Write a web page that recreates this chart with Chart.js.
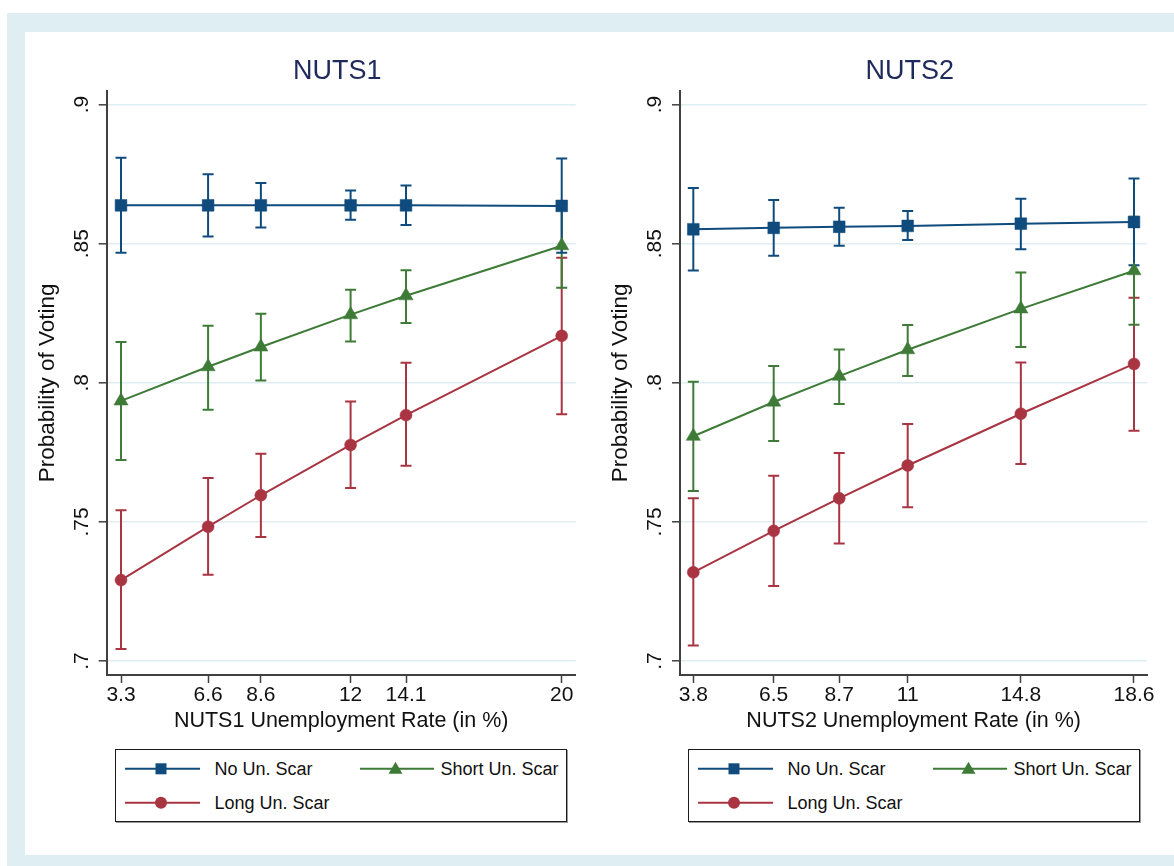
<!DOCTYPE html>
<html>
<head>
<meta charset="utf-8">
<script src="https://cdn.jsdelivr.net/npm/chart.js@4.4.1/dist/chart.umd.min.js"></script>
<style>
html,body{margin:0;padding:0;background:#fff;}
body{width:1174px;height:866px;position:relative;overflow:hidden;font-family:"Liberation Sans",Arial,Helvetica,sans-serif;}
#outer{position:absolute;left:7px;top:13px;width:1167px;height:853px;background:#deeef2;}
#inner{position:absolute;left:25px;top:32px;width:1149px;height:823px;background:#fff;}
canvas{position:absolute;}
.legend{position:absolute;top:749px;width:452px;height:73px;box-sizing:border-box;border:1.5px solid #1c1c1c;background:#fff;box-shadow:1px 1px 0 #9a9a9a;}
.legend svg{position:absolute;left:0;top:0;}
.ltext{position:absolute;font-size:18px;line-height:20px;height:20px;color:#111;white-space:nowrap;}
</style>
</head>
<body>
<div id="outer"></div>
<div id="inner"></div>
<canvas id="c1" width="575" height="710" style="left:25px;top:32px;width:575px;height:710px;"></canvas>
<canvas id="c2" width="574" height="710" style="left:600px;top:32px;width:574px;height:710px;"></canvas>
<div class="legend" id="leg1" style="left:115px;"></div>
<div class="legend" id="leg2" style="left:688px;"></div>
<script>
// ---------- DATA ----------
const SERIES_NAMES = ['No Un. Scar', 'Short Un. Scar', 'Long Un. Scar'];
const Y_TICKS = [0.7, 0.75, 0.8, 0.85, 0.9];
const Y_TICK_LABELS = ['.7', '.75', '.8', '.85', '.9'];

const NUTS1_X = [3.3, 6.6, 8.6, 12, 14.1, 20];
const NUTS1_X_LABELS = ['3.3', '6.6', '8.6', '12', '14.1', '20'];
const NUTS1_NO = [0.8638, 0.8638, 0.8638, 0.8638, 0.8638, 0.8636];
const NUTS1_NO_LO = [0.8468, 0.8526, 0.8558, 0.8586, 0.8567, 0.8468];
const NUTS1_NO_HI = [0.8809, 0.8750, 0.8718, 0.8691, 0.8709, 0.8806];
const NUTS1_SHORT = [0.7935, 0.8058, 0.8129, 0.8245, 0.8313, 0.8493];
const NUTS1_SHORT_LO = [0.7723, 0.7903, 0.8008, 0.8149, 0.8215, 0.8342];
const NUTS1_SHORT_HI = [0.8147, 0.8205, 0.8248, 0.8335, 0.8405, 0.8644];
const NUTS1_LONG = [0.7291, 0.7483, 0.7596, 0.7777, 0.7884, 0.8169];
const NUTS1_LONG_LO = [0.7043, 0.7310, 0.7446, 0.7622, 0.7702, 0.7887];
const NUTS1_LONG_HI = [0.7542, 0.7658, 0.7745, 0.7933, 0.8072, 0.8450];

const NUTS2_X = [3.8, 6.5, 8.7, 11, 14.8, 18.6];
const NUTS2_X_LABELS = ['3.8', '6.5', '8.7', '11', '14.8', '18.6'];
const NUTS2_NO = [0.8552, 0.8557, 0.8561, 0.8564, 0.8572, 0.8578];
const NUTS2_NO_LO = [0.8404, 0.8457, 0.8493, 0.8513, 0.8480, 0.8423];
const NUTS2_NO_HI = [0.8700, 0.8657, 0.8629, 0.8618, 0.8662, 0.8734];
const NUTS2_SHORT = [0.7808, 0.7931, 0.8024, 0.8119, 0.8266, 0.8403];
const NUTS2_SHORT_LO = [0.7611, 0.7791, 0.7924, 0.8025, 0.8129, 0.8209];
const NUTS2_SHORT_HI = [0.8004, 0.8061, 0.8120, 0.8208, 0.8397, 0.8597];
const NUTS2_LONG = [0.7319, 0.7468, 0.7585, 0.7703, 0.7889, 0.8068];
const NUTS2_LONG_LO = [0.7056, 0.7270, 0.7423, 0.7553, 0.7708, 0.7828];
const NUTS2_LONG_HI = [0.7585, 0.7666, 0.7748, 0.7852, 0.8073, 0.8306];

// ---------- STYLE ----------
const COLORS = ['#0f4b7d', '#3e7b37', '#a93442'];
const POINT_STYLES = ['rect', 'triangle', 'circle'];
const POINT_RADII = [8.3, 8.2, 6];
const FONT = '"Liberation Sans", Arial, Helvetica, sans-serif';
const AXIS_COLOR = '#404040';
const GRID_COLOR = '#deeef2';

Chart.defaults.font.family = FONT;
Chart.defaults.color = '#111';

const errorBarPlugin = {
  id: 'errbars',
  beforeDatasetsDraw(chart) {
    const ctx = chart.ctx, xs = chart.scales.x, ys = chart.scales.y;
    for (let di = chart.data.datasets.length - 1; di >= 0; di--) {
      const ds = chart.data.datasets[di];
      if (!ds.errLo) continue;
      ctx.save();
      ctx.strokeStyle = ds.borderColor;
      ctx.lineWidth = 2;
      ds.data.forEach((p, i) => {
        const px = xs.getPixelForValue(p.x);
        const yl = ys.getPixelForValue(ds.errLo[i]);
        const yh = ys.getPixelForValue(ds.errHi[i]);
        ctx.beginPath();
        ctx.moveTo(px, yl); ctx.lineTo(px, yh);
        ctx.moveTo(px - 5.5, yl); ctx.lineTo(px + 5.5, yl);
        ctx.moveTo(px - 5.5, yh); ctx.lineTo(px + 5.5, yh);
        ctx.stroke();
      });
      ctx.restore();
    }
  }
};

const axisTextPlugin = {
  id: 'axisText',
  afterDraw(chart, args, opts) {
    const ctx = chart.ctx, ca = chart.chartArea, ys = chart.scales.y;
    ctx.save();
    ctx.fillStyle = '#111';
    ctx.font = '21px ' + FONT;
    ctx.textAlign = 'center';
    ctx.textBaseline = 'alphabetic';
    Y_TICKS.forEach((v, i) => {
      const py = ys.getPixelForValue(v);
      ctx.save();
      ctx.translate(ca.left - 18.7, py);
      ctx.rotate(-Math.PI / 2);
      ctx.fillText(Y_TICK_LABELS[i], 0, 0);
      ctx.restore();
    });
    ctx.font = '22.5px ' + FONT;
    ctx.save();
    ctx.translate(ca.left - 53, (ca.top + ca.bottom) / 2);
    ctx.rotate(-Math.PI / 2);
    ctx.fillText(opts.yTitle, 0, 0);
    ctx.restore();
    ctx.font = '27px ' + FONT;
    ctx.fillStyle = '#1f2a5c';
    ctx.textBaseline = 'middle';
    ctx.fillText(opts.title, (ca.left + ca.right) / 2 - 4, 40);
    ctx.restore();
  }
};

function makeChart(id, cfg) {
  const datasets = cfg.series.map((s, k) => ({
    label: SERIES_NAMES[k],
    data: cfg.xs.map((x, i) => ({x: x, y: s.v[i]})),
    errLo: s.lo, errHi: s.hi,
    borderColor: COLORS[k],
    backgroundColor: COLORS[k],
    borderWidth: 2,
    pointStyle: POINT_STYLES[k],
    pointRadius: POINT_RADII[k],
    pointBorderWidth: 0.5,
    pointBorderColor: COLORS[k],
    pointBackgroundColor: COLORS[k],
    tension: 0,
    fill: false,
    order: k
  }));
  return new Chart(document.getElementById(id), {
    type: 'line',
    data: {datasets: datasets},
    plugins: [errorBarPlugin, axisTextPlugin],
    options: {
      responsive: false,
      animation: false,
      devicePixelRatio: 1,
      layout: {padding: {left: cfg.padLeft, right: cfg.padRight, top: 58.7, bottom: 0}},
      plugins: {
        legend: {display: false},
        tooltip: {enabled: false},
        title: {display: false},
        axisText: {title: cfg.title, yTitle: 'Probability of Voting'}
      },
      scales: {
        x: {
          type: 'linear',
          min: cfg.xmin, max: cfg.xmax,
          afterBuildTicks: s => { s.ticks = cfg.xs.map(v => ({value: v})); },
          afterFit: s => { s.height = 67; },
          ticks: {
            autoSkip: false, maxRotation: 0, minRotation: 0, padding: 0,
            font: {size: 21}, color: '#111',
            callback: (v, i) => cfg.xLabels[i]
          },
          grid: {drawOnChartArea: false, drawTicks: true, tickLength: 8, tickColor: AXIS_COLOR, tickWidth: 1.5},
          border: {display: true, color: AXIS_COLOR, width: 2},
          title: {display: true, text: cfg.xTitle, font: {size: 21.5}, color: '#111', padding: {top: 0, bottom: 8}}
        },
        y: {
          type: 'linear',
          min: 0.695, max: 0.905,
          afterBuildTicks: s => { s.ticks = Y_TICKS.map(v => ({value: v})); },
          afterFit: s => { s.width = 10; },
          ticks: {display: false},
          grid: {color: GRID_COLOR, lineWidth: 1.6, drawTicks: true, tickLength: 8, tickColor: AXIS_COLOR, tickWidth: 1.5},
          border: {display: true, color: AXIS_COLOR, width: 2}
        }
      }
    }
  });
}

makeChart('c1', {
  xs: NUTS1_X, xLabels: NUTS1_X_LABELS, xmin: 2.758, xmax: 20.53,
  title: 'NUTS1', xTitle: 'NUTS1 Unemployment Rate (in %)',
  padLeft: 71.7, padRight: 24.3,
  series: [
    {v: NUTS1_NO, lo: NUTS1_NO_LO, hi: NUTS1_NO_HI},
    {v: NUTS1_SHORT, lo: NUTS1_SHORT_LO, hi: NUTS1_SHORT_HI},
    {v: NUTS1_LONG, lo: NUTS1_LONG_LO, hi: NUTS1_LONG_HI}
  ]
});
makeChart('c2', {
  xs: NUTS2_X, xLabels: NUTS2_X_LABELS, xmin: 3.353, xmax: 19.047,
  title: 'NUTS2', xTitle: 'NUTS2 Unemployment Rate (in %)',
  padLeft: 70, padRight: 26.7,
  series: [
    {v: NUTS2_NO, lo: NUTS2_NO_LO, hi: NUTS2_NO_HI},
    {v: NUTS2_SHORT, lo: NUTS2_SHORT_LO, hi: NUTS2_SHORT_HI},
    {v: NUTS2_LONG, lo: NUTS2_LONG_LO, hi: NUTS2_LONG_HI}
  ]
});

// ---------- LEGENDS ----------
const LEG_ITEMS = [
  {row: 20.3, x1: 9, x2: 84, m: 46.5, tx: 100},
  {row: 20.3, x1: 244, x2: 318, m: 281, tx: 326},
  {row: 54.3, x1: 9, x2: 84, m: 46.5, tx: 100}
];
function markerSVG(k, cx, cy) {
  const c = COLORS[k];
  if (k === 0) return `<rect x="${cx-5.5}" y="${cy-5.5}" width="11" height="11" fill="${c}"/>`;
  if (k === 1) return `<polygon points="${cx},${cy-7} ${cx-7},${cy+5} ${cx+7},${cy+5}" fill="${c}"/>`;
  return `<circle cx="${cx}" cy="${cy}" r="6" fill="${c}"/>`;
}
['leg1', 'leg2'].forEach(id => {
  const el = document.getElementById(id);
  let svg = '<svg width="450" height="70" xmlns="http://www.w3.org/2000/svg">';
  let html = '';
  LEG_ITEMS.forEach((it, k) => {
    const r = it.row - 1.5;
    svg += `<line x1="${it.x1}" y1="${r}" x2="${it.x2}" y2="${r}" stroke="${COLORS[k]}" stroke-width="2"/>`;
    svg += markerSVG(k, it.m - 1.5, r);
    html += `<div class="ltext" style="left:${it.tx - 1.5}px;top:${r - 10}px;">${SERIES_NAMES[k]}</div>`;
  });
  svg += '</svg>';
  el.innerHTML = svg + html;
});
</script>
</body>
</html>
